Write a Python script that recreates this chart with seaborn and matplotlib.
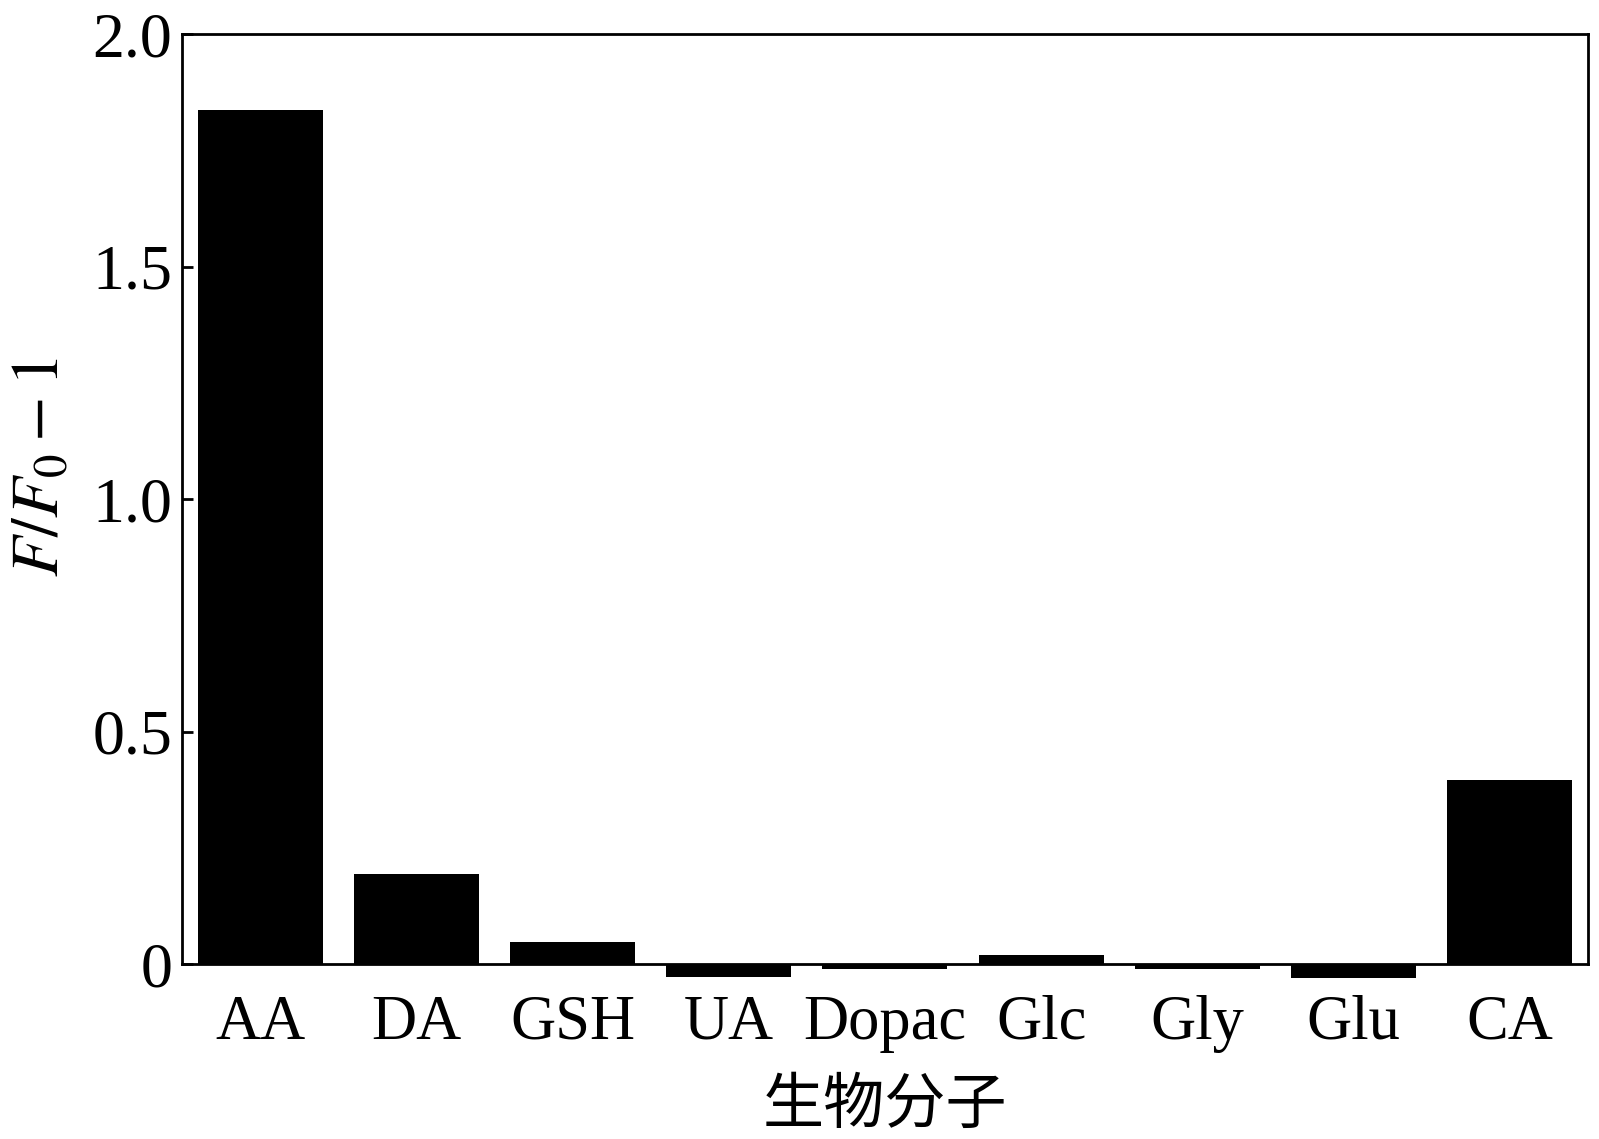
import matplotlib
matplotlib.use("Agg")
import matplotlib.pyplot as plt
import seaborn as sns
import pandas as pd

# data
molecules = ['AA', 'DA', 'GSH', 'UA', 'Dopac', 'Glc', 'Gly', 'Glu', 'CA']
response = [1.837, 0.194, 0.047, -0.028, -0.010, 0.020, -0.010, -0.030, 0.396]
ytick_vals = [0, 0.5, 1.0, 1.5, 2.0]
ytick_text = ['0', '0.5', '1.0', '1.5', '2.0']

sns.set_style('ticks')
plt.rcParams['font.family'] = ['Liberation Serif', 'Noto Sans CJK SC']
plt.rcParams['mathtext.fontset'] = 'stix'
plt.rcParams['text.color'] = 'black'
plt.rcParams['xtick.color'] = 'black'
plt.rcParams['ytick.color'] = 'black'
plt.rcParams['axes.labelcolor'] = 'black'

df = pd.DataFrame({'mol': molecules, 'val': response})

fig = plt.figure(figsize=(15.99, 11.39), dpi=100)
ax = fig.add_axes([0.1138, 0.129, 0.8792, 0.841])
sns.barplot(data=df, x='mol', y='val', color='black', saturation=1,
            width=0.8, ax=ax, edgecolor='none')

ax.set_xlim(-0.5, len(molecules) - 0.5)
ax.set_ylim(-0.06, 2.0)
ax.set_yticks(ytick_vals)
ax.set_yticklabels(ytick_text)

for s in ax.spines.values():
    s.set_linewidth(2)
    s.set_color('black')
ax.spines['bottom'].set_position(('data', 0))
ax.spines['left'].set_bounds(0, 2.0)
ax.spines['right'].set_bounds(0, 2.0)

ax.tick_params(axis='y', direction='in', length=8, width=2, pad=7, labelsize=46)
ax.tick_params(axis='x', length=0, pad=22, labelsize=45)

ax.set_ylabel(r'$F/F_0-1$', fontsize=48)
ax.yaxis.set_label_coords(-0.078, 0.548)
ax.set_xlabel('')
fig.text(0.5535, 0.029, '生物分子', fontsize=44, family=['Noto Sans CJK SC'],
         ha='center', va='center')

fig.savefig('out.png', dpi=100)
